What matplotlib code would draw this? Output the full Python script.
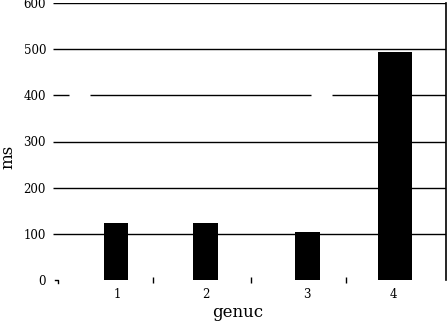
import matplotlib
matplotlib.use("Agg")
import matplotlib.pyplot as plt

categories = ["1", "2", "3", "4"]
values = [123, 123, 104, 494]
y_ticks = [0, 100, 200, 300, 400, 500, 600]

# layout (pixel-like x coordinates)
centers = [116, 205.5, 307.5, 395]
widths = [24, 25, 25, 34]
label_x = [117, 206, 307, 393]
minor_x = [153, 251, 346]

W, H = 447, 321
fig = plt.figure(figsize=(W / 100, H / 100), dpi=100)
left, right, bot, top = 53, 446, 280, 3
ax = fig.add_axes([left / W, (H - bot) / H, (right - left) / W, (bot - top) / H])
ax.set_xlim(left, right)
ax.set_ylim(0, 600)

font = "DejaVu Serif"

# gridlines
for v in y_ticks[1:]:
    if v == 400:
        segs = [(left, 69), (90, 311), (332, right)]
    else:
        segs = [(left, right)]
    for a, b in segs:
        ax.hlines(v, a, b, color="black", lw=1.0, zorder=1)

ax.bar(centers, values, width=widths, color="black", zorder=2)

for s in ["left", "top", "bottom"]:
    ax.spines[s].set_visible(False)
ax.spines["right"].set_linewidth(1.2)

ax.set_yticks(y_ticks)
ax.set_yticklabels([str(v) for v in y_ticks], fontfamily=font, fontsize=8.5)
ax.tick_params(axis="y", length=0, pad=5)

ax.set_xticks(label_x)
ax.set_xticklabels(categories, fontfamily=font, fontsize=8.5)
ax.tick_params(axis="x", which="major", length=0, pad=6)
ax.set_xticks(minor_x, minor=True)
ax.tick_params(axis="x", which="minor", length=5, width=1, direction="inout")

# small mark at zero
ax.plot([left + 2, left + 5, left + 5], [0, 0, -6], color="black", lw=1, clip_on=False)

fig.text(238 / W, 1 - 317 / H, "genuc", ha="center", va="baseline",
         fontfamily=font, fontsize=12)
fig.text(8 / W, 1 - 157 / H, "ms", rotation=90, ha="center", va="center",
         fontfamily=font, fontsize=12)

fig.savefig("out.png", dpi=100)
